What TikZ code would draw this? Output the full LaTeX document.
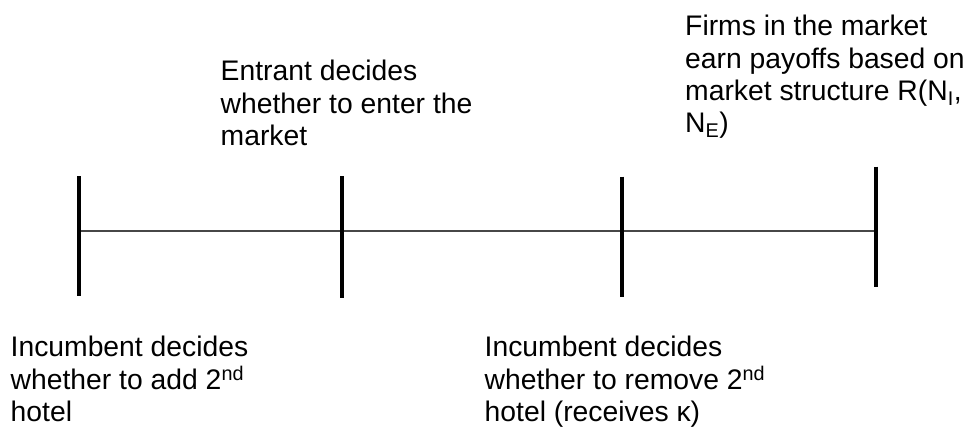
\documentclass[tikz,border=0pt]{standalone}
\usepackage{fontspec}
\setmainfont{Liberation Sans}
\begin{document}
\begin{tikzpicture}[x=1pt,y=-1pt,
  tick/.style={line width=4.2pt,black},
  axis/.style={line width=1.8pt,black!72},
  lbl/.style={anchor=base west,inner sep=0pt,font=\fontsize{28.3}{32.3}\selectfont}]
\useasboundingbox (0,0) rectangle (966,428);
% ticks
\coordinate (t1a) at (78.7,176); \coordinate (t1b) at (78.7,296);
\coordinate (t2a) at (342.3,176); \coordinate (t2b) at (342.3,297.5);
\coordinate (t3a) at (622.3,176.5); \coordinate (t3b) at (622.3,296.5);
\coordinate (t4a) at (876,166.5); \coordinate (t4b) at (876,286.5);
\coordinate (l0) at (78.7,230.7);
\coordinate (l1) at (876,230.7);
\draw[axis] (l0) -- (l1);
\draw[tick] (t1a) -- (t1b);
\draw[tick] (t2a) -- (t2b);
\draw[tick] (t3a) -- (t3b);
\draw[tick] (t4a) -- (t4b);
% labels
\node[lbl] (entrant) at (220.5,80.7) {\begin{tabular}[t]{@{}l@{}}Entrant decides\\whether to enter the\\market\end{tabular}};
\node[lbl] (firms) at (685,36) {\begin{tabular}[t]{@{}l@{}}Firms in the market\\earn payoffs based on\\market structure R(N\textsubscript{I},\\N\textsubscript{E})\end{tabular}};
\node[lbl] (inc1) at (10.5,356) {\begin{tabular}[t]{@{}l@{}}Incumbent decides\\whether to add 2\textsuperscript{nd}\\hotel\end{tabular}};
\node[lbl] (inc2) at (484.5,356) {\begin{tabular}[t]{@{}l@{}}Incumbent decides\\whether to remove 2\textsuperscript{nd}\\hotel (receives κ)\end{tabular}};
\end{tikzpicture}
\end{document}
